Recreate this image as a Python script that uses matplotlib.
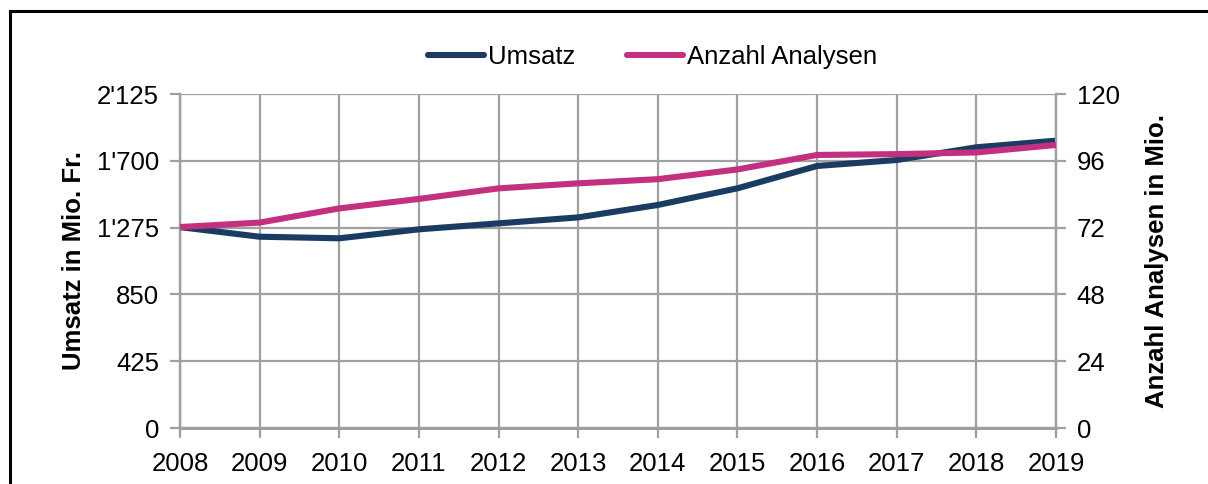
import matplotlib
matplotlib.use("Agg")
import matplotlib.pyplot as plt
from matplotlib.lines import Line2D
from matplotlib.ticker import FuncFormatter

years = [2008, 2009, 2010, 2011, 2012, 2013, 2014, 2015, 2016, 2017, 2018, 2019]
umsatz = [1278, 1217, 1207, 1264, 1302, 1340, 1419, 1525, 1667, 1705, 1786, 1828]
analysen = [72.2, 73.8, 78.9, 82.3, 86.1, 87.9, 89.4, 92.9, 98.1, 98.4, 99.0, 101.7]

left_ticks = [0, 425, 850, 1275, 1700, 2125]
right_ticks = [0, 24, 48, 72, 96, 120]

NAVY = "#1a3c63"
MAGENTA = "#c3307f"
GRID = "#a0a0a0"

plt.rcParams["font.family"] = ["Liberation Sans", "DejaVu Sans"]
plt.rcParams["font.size"] = 18.5

fig = plt.figure(figsize=(12.08, 4.84), dpi=100)
ax = fig.add_axes([180 / 1208, 1 - 428 / 484, 876 / 1208, 334 / 484])
ax2 = ax.twinx()


def swiss(v, pos):
    return f"{int(v):,}".replace(",", "'")


l1, = ax.plot(years, umsatz, color=NAVY, lw=4.4, solid_capstyle="butt", zorder=3, label="Umsatz")
l2, = ax2.plot(years, analysen, color=MAGENTA, lw=4.4, solid_capstyle="butt", zorder=3,
               label="Anzahl Analysen")

ax.set_xlim(2008, 2019)
ax.set_ylim(0, 2125)
ax2.set_ylim(0, 120)
ax.set_xticks(years)
ax.set_yticks(left_ticks)
ax.yaxis.set_major_formatter(FuncFormatter(swiss))
ax2.set_yticks(right_ticks)

ax.grid(True, color=GRID, lw=1.6)
ax.set_axisbelow(True)
for a in (ax, ax2):
    a.spines["top"].set_visible(False)
    for side in ("left", "right", "bottom"):
        a.spines[side].set_color(GRID)
        a.spines[side].set_linewidth(1.6)
    a.tick_params(colors=GRID, labelcolor="black", width=1.6, length=7, pad=8)
ax.spines["bottom"].set_linewidth(2.2)
ax.tick_params(axis="x", pad=10)

ax.set_ylabel("Umsatz in Mio. Fr.", fontweight="bold", labelpad=8)
ax2.set_ylabel("Anzahl Analysen in Mio.", fontweight="bold", labelpad=18)

# legend handles with rounded ends, like the original
h1 = Line2D([], [], color=NAVY, lw=4.4, solid_capstyle="round")
h2 = Line2D([], [], color=MAGENTA, lw=4.4, solid_capstyle="round")
fig.legend(handles=[h1, h2], labels=[l1.get_label(), l2.get_label()], loc="center",
           bbox_to_anchor=(0.54, 1 - 57 / 484), ncol=2, frameon=False,
           handlelength=2.2, handletextpad=0.15, columnspacing=2.0)

# outer frame (only top and left visible in the crop)
fig.add_artist(Line2D([9.5 / 1208, 9.5 / 1208], [0, 1 - 10.5 / 484], color="black", lw=2.2,
                      transform=fig.transFigure))
fig.add_artist(Line2D([9.5 / 1208, 1], [1 - 10.5 / 484, 1 - 10.5 / 484], color="black", lw=2.2,
                      transform=fig.transFigure))

fig.savefig("out.png", dpi=100)
